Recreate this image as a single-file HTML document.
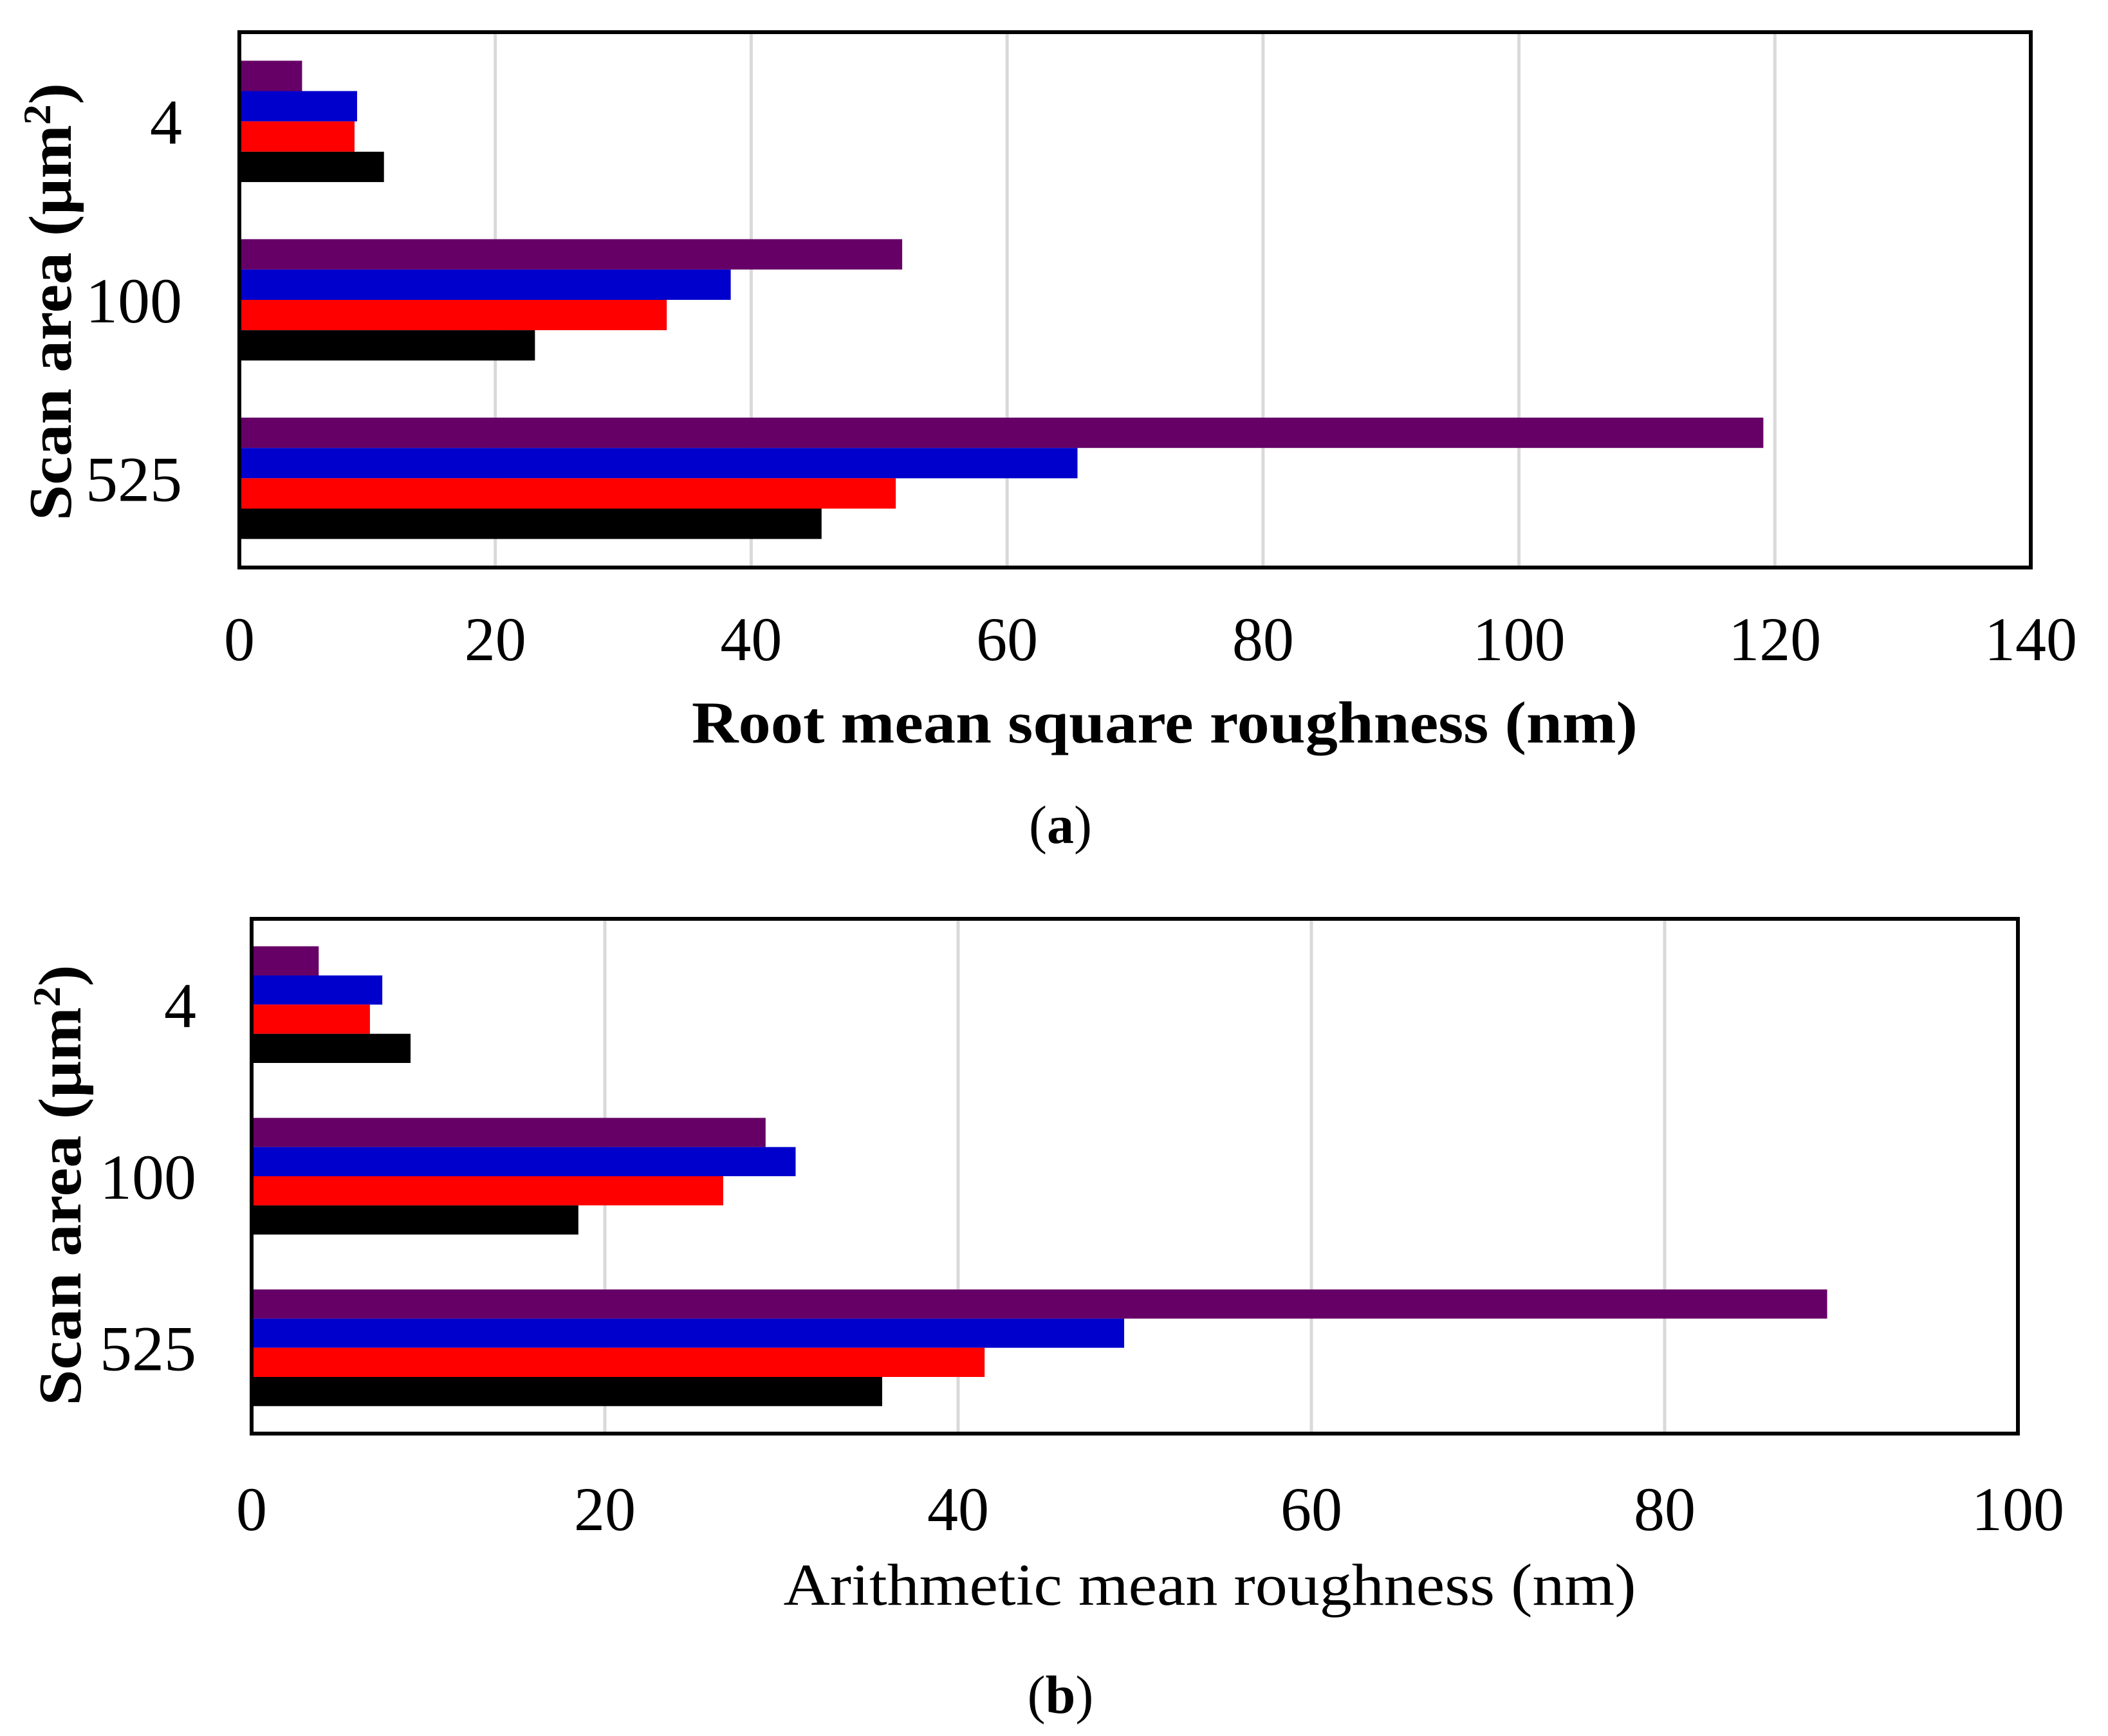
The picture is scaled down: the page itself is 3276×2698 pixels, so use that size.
<!DOCTYPE html>
<html><head><meta charset="utf-8"><style>
html,body{margin:0;padding:0;background:#fff;}
svg{display:block;font-family:"Liberation Serif",serif;}
</style></head><body>
<svg id="fig" width="3276" height="2698" viewBox="0 0 3276 2698" xmlns="http://www.w3.org/2000/svg"></svg>
<script>
const categories = ["4", "100", "525"];
const seriesColors = ["#660066", "#0000cc", "#ff0000", "#000000"];
// series values per category (top to bottom: purple, blue, red, black)
const rmsPurple = [4.9, 51.8, 119.1];
const rmsBlue = [9.2, 38.4, 65.5];
const rmsRed = [9.0, 33.4, 51.3];
const rmsBlack = [11.3, 23.1, 45.5];
const raPurple = [3.8, 29.1, 89.2];
const raBlue = [7.4, 30.8, 49.4];
const raRed = [6.7, 26.7, 41.5];
const raBlack = [9.0, 18.5, 35.7];
const rmsTicks = [0, 20, 40, 60, 80, 100, 120, 140];
const raTicks = [0, 20, 40, 60, 80, 100];

const NS = "http://www.w3.org/2000/svg";
const svg = document.getElementById("fig");
function mk(tag, attrs, parent) {
  const e = document.createElementNS(NS, tag);
  for (const k in attrs) e.setAttribute(k, attrs[k]);
  (parent || svg).appendChild(e);
  return e;
}

function chart(cfg) {
  const g = mk("g", {});
  
  
  const x = v => cfg.x0 + (v - cfg.ticks[0]) / (cfg.ticks[cfg.ticks.length - 1] - cfg.ticks[0]) * (cfg.x1 - cfg.x0);
  const band = (cfg.y1 - cfg.y0) / categories.length;
  const barH = band * 0.68 / 4;
  const pad = (band - barH * 4) / 2;
  cfg.ticks.forEach((t, i) => {
    if (i === 0 || i === cfg.ticks.length - 1) return;
    const l = mk("line", {x1: x(t), x2: x(t), y1: cfg.y0, y2: cfg.y1, stroke: "#d9d9d9", "stroke-width": 5}, g);
    
    
  });
  categories.forEach((c, ci) => {
    cfg.series.forEach((s, si) => {
      const r = mk("rect", {x: x(0), y: cfg.y0 + ci * band + pad + si * barH, width: x(s[ci]) - x(0), height: barH, fill: seriesColors[si]}, g);
      
      
    });
    const t = mk("text", {x: cfg.catX, y: cfg.y0 + ci * band + band / 2 + 35, "text-anchor": "end", "font-size": 100}, g);
    t.textContent = c;
    
    
  });
  const f = mk("rect", {x: cfg.x0, y: cfg.y0, width: cfg.x1 - cfg.x0, height: cfg.y1 - cfg.y0, fill: "none", stroke: "#000", "stroke-width": 6}, g);
  
  
  cfg.ticks.forEach(t => {
    const e = mk("text", {x: x(t), y: cfg.tickY, "text-anchor": "middle", "font-size": 96}, g);
    e.textContent = t;
    
    
  });
  const xt = mk("text", {x: cfg.titleX, y: cfg.titleY, "text-anchor": "middle", "font-size": 92, "font-weight": cfg.bold ? "bold" : "normal", textLength: cfg.titleW, lengthAdjust: "spacingAndGlyphs"}, g);
  xt.textContent = cfg.title;
  
  
  const yt = mk("text", {x: 0, y: 0, "text-anchor": "middle", "font-size": 94, "font-weight": "bold", textLength: cfg.yTitleW, lengthAdjust: "spacingAndGlyphs", transform: "translate(" + cfg.yTitleX + "," + cfg.yTitleY + ") rotate(-90)"}, g);
  yt.innerHTML = 'Scan area (μm<tspan dy="-32" font-size="60">2</tspan><tspan dy="32">)</tspan>';
  
  
  const pl = mk("text", {x: cfg.panelX, y: cfg.panelY, "text-anchor": "middle", "font-size": 84}, g);
  pl.innerHTML = '(<tspan font-weight="bold">' + cfg.panel + '</tspan>)';
  
  
}

chart({name: "chart-rms", x0: 372, x1: 3156, y0: 50, y1: 882, ticks: rmsTicks,
  series: [rmsPurple, rmsBlue, rmsRed, rmsBlack], catX: 283, tickY: 1026,
  title: "Root mean square roughness (nm)", bold: true, titleX: 1810, titleY: 1154, titleW: 1470,
  yTitleX: 110, yTitleY: 469, yTitleW: 680, panel: "a", panelX: 1648, panelY: 1310});
chart({name: "chart-ra", x0: 391, x1: 3136, y0: 1428, y1: 2228, ticks: raTicks,
  series: [raPurple, raBlue, raRed, raBlack], catX: 305, tickY: 2378,
  title: "Arithmetic mean roughness (nm)", bold: false, titleX: 1880, titleY: 2494, titleW: 1325,
  yTitleX: 125, yTitleY: 1842, yTitleW: 685, panel: "b", panelX: 1648, panelY: 2662});
</script>
</body></html>
